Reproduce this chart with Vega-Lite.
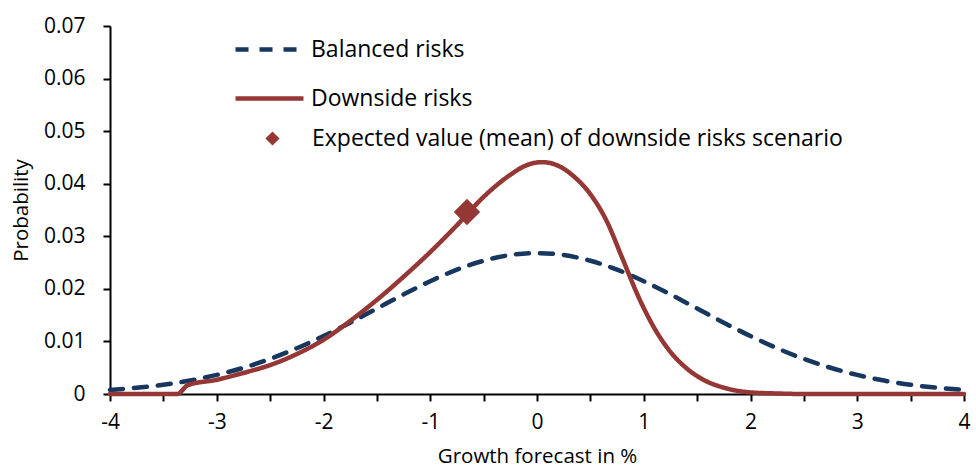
{
  "$schema": "https://vega.github.io/schema/vega-lite/v6.json",
  "autosize": {"type": "none"},
  "width": 854,
  "height": 368,
  "padding": {"left": 110, "top": 26, "right": 12, "bottom": 77},
  "background": "white",
  "config": {
    "view": {"stroke": null},
    "font": "Open Sans",
    "axis": {"grid": false, "domainColor": "black", "tickColor": "black", "domainWidth": 2, "tickWidth": 2, "labelColor": "black", "titleColor": "black", "labelFont": "Open Sans", "titleFont": "Open Sans", "labelFontSize": 21, "titleFontSize": 20.5, "titleFontWeight": "normal", "tickSize": 7}
  },
  "datasets": {
    "curves": [
      {"x": -4, "y": 0.00077, "series": "Balanced risks"},
      {"x": -3.75, "y": 0.00118, "series": "Balanced risks"},
      {"x": -3.5, "y": 0.00176, "series": "Balanced risks"},
      {"x": -3.25, "y": 0.00256, "series": "Balanced risks"},
      {"x": -3, "y": 0.00363, "series": "Balanced risks"},
      {"x": -2.75, "y": 0.00499, "series": "Balanced risks"},
      {"x": -2.5, "y": 0.00668, "series": "Balanced risks"},
      {"x": -2.25, "y": 0.0087, "series": "Balanced risks"},
      {"x": -2, "y": 0.01102, "series": "Balanced risks"},
      {"x": -1.75, "y": 0.01357, "series": "Balanced risks"},
      {"x": -1.5, "y": 0.01626, "series": "Balanced risks"},
      {"x": -1.25, "y": 0.01894, "series": "Balanced risks"},
      {"x": -1, "y": 0.02146, "series": "Balanced risks"},
      {"x": -0.75, "y": 0.02365, "series": "Balanced risks"},
      {"x": -0.5, "y": 0.02535, "series": "Balanced risks"},
      {"x": -0.25, "y": 0.02643, "series": "Balanced risks"},
      {"x": 0, "y": 0.0268, "series": "Balanced risks"},
      {"x": 0.25, "y": 0.02643, "series": "Balanced risks"},
      {"x": 0.5, "y": 0.02535, "series": "Balanced risks"},
      {"x": 0.75, "y": 0.02365, "series": "Balanced risks"},
      {"x": 1, "y": 0.02146, "series": "Balanced risks"},
      {"x": 1.25, "y": 0.01894, "series": "Balanced risks"},
      {"x": 1.5, "y": 0.01626, "series": "Balanced risks"},
      {"x": 1.75, "y": 0.01357, "series": "Balanced risks"},
      {"x": 2, "y": 0.01102, "series": "Balanced risks"},
      {"x": 2.25, "y": 0.0087, "series": "Balanced risks"},
      {"x": 2.5, "y": 0.00668, "series": "Balanced risks"},
      {"x": 2.75, "y": 0.00499, "series": "Balanced risks"},
      {"x": 3, "y": 0.00363, "series": "Balanced risks"},
      {"x": 3.25, "y": 0.00256, "series": "Balanced risks"},
      {"x": 3.5, "y": 0.00176, "series": "Balanced risks"},
      {"x": 3.75, "y": 0.00118, "series": "Balanced risks"},
      {"x": 4, "y": 0.00077, "series": "Balanced risks"},
      {"x": -4, "y": 0, "series": "Downside risks"},
      {"x": -3.37, "y": 0, "series": "Downside risks"},
      {"x": -3.27, "y": 0.0017, "series": "Downside risks"},
      {"x": -3, "y": 0.0027, "series": "Downside risks"},
      {"x": -2.75, "y": 0.004, "series": "Downside risks"},
      {"x": -2.5, "y": 0.0055, "series": "Downside risks"},
      {"x": -2.25, "y": 0.0076, "series": "Downside risks"},
      {"x": -2, "y": 0.0103, "series": "Downside risks"},
      {"x": -1.75, "y": 0.0139, "series": "Downside risks"},
      {"x": -1.5, "y": 0.0179, "series": "Downside risks"},
      {"x": -1.25, "y": 0.0223, "series": "Downside risks"},
      {"x": -1, "y": 0.027, "series": "Downside risks"},
      {"x": -0.75, "y": 0.0321, "series": "Downside risks"},
      {"x": -0.5, "y": 0.0375, "series": "Downside risks"},
      {"x": -0.25, "y": 0.0417, "series": "Downside risks"},
      {"x": -0.1, "y": 0.0435, "series": "Downside risks"},
      {"x": 0.05, "y": 0.0441, "series": "Downside risks"},
      {"x": 0.2, "y": 0.0434, "series": "Downside risks"},
      {"x": 0.35, "y": 0.0413, "series": "Downside risks"},
      {"x": 0.5, "y": 0.038, "series": "Downside risks"},
      {"x": 0.65, "y": 0.033, "series": "Downside risks"},
      {"x": 0.8, "y": 0.0258, "series": "Downside risks"},
      {"x": 0.95, "y": 0.0185, "series": "Downside risks"},
      {"x": 1.1, "y": 0.0125, "series": "Downside risks"},
      {"x": 1.25, "y": 0.008, "series": "Downside risks"},
      {"x": 1.4, "y": 0.0049, "series": "Downside risks"},
      {"x": 1.55, "y": 0.0028, "series": "Downside risks"},
      {"x": 1.75, "y": 0.0012, "series": "Downside risks"},
      {"x": 2, "y": 0.0003, "series": "Downside risks"},
      {"x": 2.25, "y": 0.0001, "series": "Downside risks"},
      {"x": 2.5, "y": 0, "series": "Downside risks"},
      {"x": 4, "y": 0, "series": "Downside risks"}
    ],
    "mean": [
      {"x": -0.656, "y": 0.0346, "label": "Expected value (mean) of downside risks scenario"}
    ]
  },
  "layer": [
    {
      "data": {"name": "curves"},
      "mark": {"type": "line", "strokeWidth": 4.5, "interpolate": "monotone", "strokeCap": "round", "clip": false},
      "encoding": {
        "x": {
          "field": "x", "type": "quantitative",
          "scale": {"domain": [-4, 4], "nice": false, "zero": false},
          "axis": {
            "title": "Growth forecast in %",
            "values": [-4, -3.5, -3, -2.5, -2, -1.5, -1, -0.5, 0, 0.5, 1, 1.5, 2, 2.5, 3, 3.5, 4],
            "labelExpr": "datum.value % 1 === 0 ? '' + datum.value : ''",
            "labelPadding": 10,
            "titlePadding": 14,
            "labelFlush": false
          }
        },
        "y": {
          "field": "y", "type": "quantitative",
          "scale": {"domain": [0, 0.07], "nice": false},
          "axis": {
            "title": "Probability",
            "values": [0, 0.01, 0.02, 0.03, 0.04, 0.05, 0.06, 0.07],
            "format": ".2~f",
            "labelPadding": 18,
            "titlePadding": 12,
            "labelFlush": false
          }
        },
        "color": {
          "field": "series", "type": "nominal",
          "scale": {"domain": ["Balanced risks", "Downside risks"], "range": ["#17375E", "#953735"]},
          "legend": {
            "title": null, "orient": "none", "legendX": 123, "legendY": -13,
            "symbolType": "stroke", "symbolSize": 4624, "symbolStrokeWidth": 4.5,
            "labelFont": "Open Sans", "labelFontSize": 23, "labelColor": "black", "labelLimit": 400,
            "labelOffset": 5, "rowPadding": -22, "padding": 0
          }
        },
        "strokeDash": {
          "field": "series", "type": "nominal",
          "scale": {"domain": ["Balanced risks", "Downside risks"], "range": [[13, 11], [1, 0]]},
          "legend": {
            "title": null, "orient": "none", "legendX": 123, "legendY": -13,
            "symbolType": "stroke", "symbolSize": 4624, "symbolStrokeWidth": 4.5,
            "labelFont": "Open Sans", "labelFontSize": 23, "labelColor": "black", "labelLimit": 400,
            "labelOffset": 5, "rowPadding": -22, "padding": 0
          }
        }
      }
    },
    {
      "data": {"name": "mean"},
      "mark": {"type": "point", "filled": true, "color": "#953735", "opacity": 1, "size": 700},
      "encoding": {
        "x": {"field": "x", "type": "quantitative"},
        "y": {"field": "y", "type": "quantitative"},
        "shape": {
          "field": "label", "type": "nominal",
          "scale": {"range": ["diamond"]},
          "legend": {
            "title": null, "orient": "none", "legendX": 151, "legendY": 101,
            "symbolSize": 200, "symbolFillColor": "#953735", "symbolStrokeColor": "#953735",
            "labelFont": "Open Sans", "labelFontSize": 23, "labelColor": "black",
            "labelOffset": 28, "labelLimit": 700, "padding": 0
          }
        }
      }
    }
  ]
}
